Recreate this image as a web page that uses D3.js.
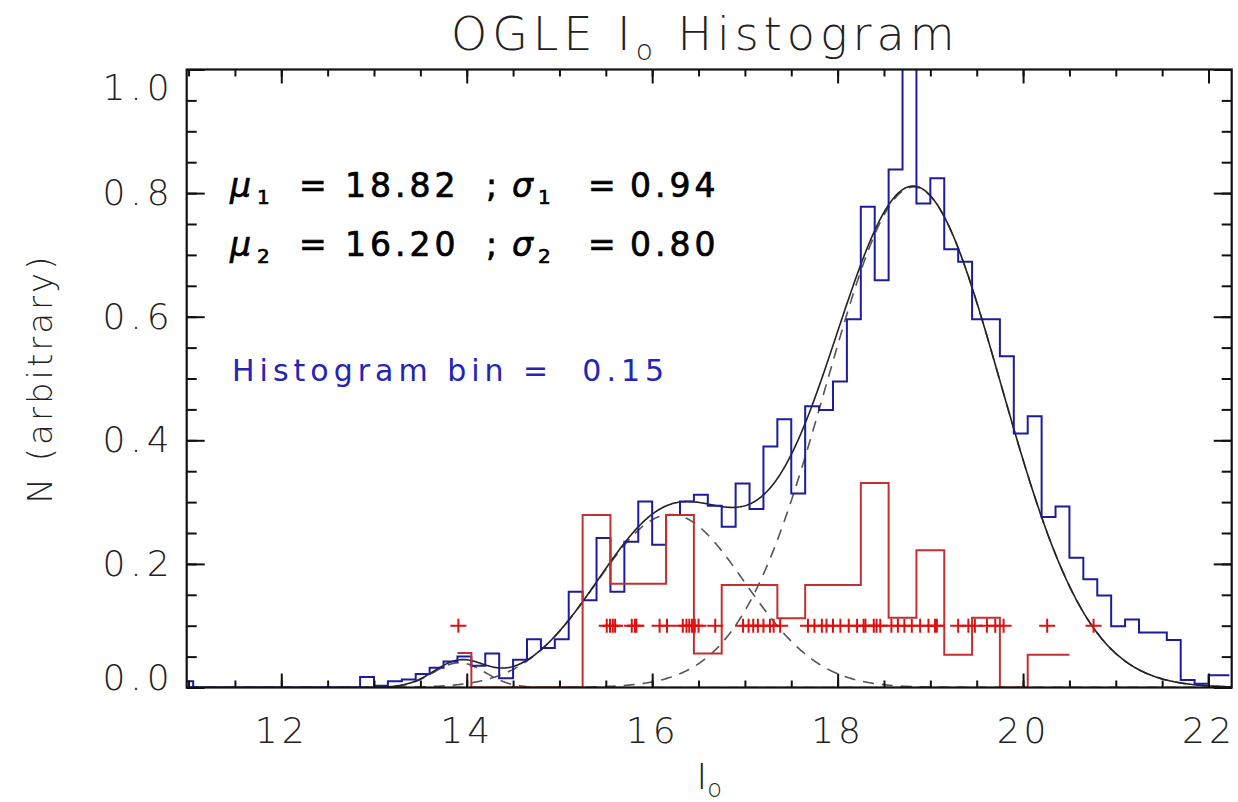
<!DOCTYPE html>
<html><head><meta charset="utf-8">
<script src="https://cdn.jsdelivr.net/npm/d3@7"></script>
<style>
body{margin:0;background:#fff}
svg{display:block}
text{white-space:pre}
</style>
</head><body>
<svg id="chart" width="1238" height="802"></svg>
<script>
// ---- data ----
const blueCenters = [10.975,11.125,11.275,11.425,11.575,11.725,11.875,12.025,12.175,12.325,12.475,12.625,12.775,
  12.925,13.075,13.225,13.375,13.525,13.675,13.825,13.975,14.125,14.275,14.425,14.575,14.725,14.875,15.025,
  15.175,15.325,15.475,15.625,15.775,15.925,16.075,16.225,16.375,16.525,16.675,16.825,16.975,17.125,17.275,
  17.425,17.575,17.725,17.875,18.025,18.175,18.325,18.475,18.625,18.775,18.925,19.075,19.225,19.375,19.525,
  19.675,19.825,19.975,20.125,20.275,20.425,20.575,20.725,20.875,21.025,21.175,21.325,21.475,21.625,21.775,
  21.925,22.075,22.225];
const blueCounts = [0.01,0,0,0,0,0,0,0,0,0,0,0,0,
  0.017,0.003,0.01,0.013,0.022,0.032,0.042,0.05,0.035,0.055,0.015,0.045,0.078,0.064,0.078,
  0.155,0.141,0.242,0.155,0.236,0.301,0.231,0.279,0.301,0.312,0.294,0.26,0.33,0.289,0.39,
  0.434,0.314,0.455,0.449,0.495,0.596,0.778,0.659,0.838,1.08,0.783,0.824,0.709,0.689,0.596,
  0.596,0.536,0.411,0.439,0.276,0.293,0.21,0.175,0.149,0.099,0.11,0.089,0.089,0.077,0.012,
  0.006,0.02,0.02];
const redCenters = [13.9,14.2,14.5,14.8,15.1,15.4,15.7,16.0,16.3,16.6,16.9,17.2,17.5,17.8,18.1,18.4,18.7,19.0,19.3,19.6,19.9,20.2,20.5];
const redCounts  = [0.056,0,0,0,0,0.279,0.168,0.168,0.279,0.055,0.166,0.166,0.112,0.166,0.166,0.331,0.113,0.222,0.053,0.113,0,0.053,0.053];
const redStars = [13.91,15.51,15.545,15.575,15.60,15.78,15.815,15.83,16.08,16.16,16.33,16.37,16.40,16.43,16.46,16.50,16.68,
  16.98,17.04,17.09,17.14,17.20,17.27,17.31,17.38,17.68,17.75,17.83,17.88,17.95,18.03,18.12,18.21,18.28,18.30,18.39,
  18.42,18.46,18.58,18.65,18.72,18.80,18.89,18.98,19.05,19.07,19.30,19.41,19.48,19.61,19.70,19.79,20.26,20.76];
const starLevel = 0.1;
const fitMu = [18.82, 16.20, 13.92];
const fitSigma = [0.94, 0.80, 0.28];
const fitAmp = [0.81, 0.28, 0.04];
const xTicks = [12,14,16,18,20,22];
const yTicks = [0,0.2,0.4,0.6,0.8,1.0];
const yTickLabels = ["0.0","0.2","0.4","0.6","0.8","1.0"];
const fitLabels = [["1","18.82","0.94"],["2","16.20","0.80"]];
const binLabel = "Histogram bin =  0.15";

// ---- layout ----
const L = 186.7, R = 1231.7, T = 69.5, B = 687.5;
const svg = d3.select("#chart");
const x = d3.scaleLinear().domain([10.98, 22.25]).range([L, R]);
const y = d3.scaleLinear().domain([0, 1]).range([B, T]);
const labelFont = "'DejaVu Sans', sans-serif";

svg.append("defs").append("clipPath").attr("id","clip")
  .append("rect").attr("x",L).attr("y",T).attr("width",R-L).attr("height",B-T);

const plot = svg.append("g").attr("clip-path","url(#clip)");

// fitted gaussian model curves
const xs = d3.range(10.98, 22.26, 0.01);
const gauss = (v,i) => fitAmp[i]*Math.exp(-((v-fitMu[i])**2)/(2*fitSigma[i]**2));
const line = d3.line().x(d=>x(d[0])).y(d=>y(d[1]));
[0,1,2].forEach(i=>{
  plot.append("path").attr("d", line(xs.map(v=>[v,gauss(v,i)])))
    .attr("fill","none").attr("stroke","#555").attr("stroke-width",1.6)
    .attr("stroke-dasharray","11,8");
});
plot.append("path").attr("d", line(xs.map(v=>[v,gauss(v,0)+gauss(v,1)+gauss(v,2)])))
  .attr("fill","none").attr("stroke","#222").attr("stroke-width",1.6);

// histograms (step at midpoints)
const step = d3.line().curve(d3.curveStep).x(d=>x(d[0])).y(d=>y(d[1]));
plot.append("path").attr("d", step(blueCenters.map((c,i)=>[c,blueCounts[i]])))
  .attr("fill","none").attr("stroke","#1c1c9c").attr("stroke-width",2);
plot.append("path").attr("d", step(redCenters.map((c,i)=>[c,redCounts[i]])))
  .attr("fill","none").attr("stroke","#c43030").attr("stroke-width",2);

// plus markers
plot.selectAll("path.star").data(redStars).join("path").attr("class","star")
  .attr("d", d=>`M${x(d)-8},${y(starLevel)}H${x(d)+8}M${x(d)},${y(starLevel)-7}V${y(starLevel)+7}`)
  .attr("stroke","#dd1010").attr("stroke-width",2).attr("fill","none");

// axes
const minorX = d3.range(11, 22.3, 0.5);
const minorY = d3.range(0, 1.001, 0.05);
function styleAxis(g){ g.select(".domain").remove(); g.selectAll("line").attr("stroke","#111").attr("stroke-width",2); }
svg.append("g").attr("transform",`translate(0,${B})`)
  .call(d3.axisBottom(x).tickValues(minorX).tickSize(-7).tickFormat("")).call(styleAxis);
svg.append("g").attr("transform",`translate(0,${B})`)
  .call(d3.axisBottom(x).tickValues(xTicks).tickSize(-14).tickPadding(30).tickFormat(d3.format("d")))
  .call(styleAxis)
  .selectAll("text").attr("font-family",labelFont).attr("font-size",36).attr("font-weight",200)
  .attr("fill","#222").attr("letter-spacing","4px");
svg.append("g").attr("transform",`translate(0,${T})`)
  .call(d3.axisTop(x).tickValues(minorX).tickSize(-7).tickFormat("")).call(styleAxis);
svg.append("g").attr("transform",`translate(0,${T})`)
  .call(d3.axisTop(x).tickValues(xTicks).tickSize(-14).tickFormat("")).call(styleAxis);

svg.append("g").attr("transform",`translate(${L},0)`)
  .call(d3.axisLeft(y).tickValues(minorY).tickSize(-10).tickFormat("")).call(styleAxis);
const yAx = svg.append("g").attr("transform",`translate(${L},0)`)
  .call(d3.axisLeft(y).tickValues(yTicks).tickSize(-18).tickPadding(12).tickFormat((d,i)=>yTickLabels[i]))
  .call(styleAxis);
yAx.selectAll("text").attr("font-family",labelFont).attr("font-size",36).attr("font-weight",200)
  .attr("fill","#222").attr("letter-spacing","5px")
  .attr("dy",(d)=> d===1 ? "0.82em" : d===0 ? "0.05em" : "0.32em");
svg.append("g").attr("transform",`translate(${R},0)`)
  .call(d3.axisRight(y).tickValues(minorY).tickSize(-10).tickFormat("")).call(styleAxis);
svg.append("g").attr("transform",`translate(${R},0)`)
  .call(d3.axisRight(y).tickValues(yTicks).tickSize(-18).tickFormat("")).call(styleAxis);

svg.append("rect").attr("x",L).attr("y",T).attr("width",R-L).attr("height",B-T)
  .attr("fill","none").attr("stroke","#111").attr("stroke-width",2.2);

// title
const title = svg.append("text").attr("x",(L+R)/2 - 4).attr("y",50).attr("text-anchor","middle")
  .attr("font-family",labelFont).attr("font-size",46).attr("font-weight",200).attr("fill","#222")
  .attr("letter-spacing","5px");
title.append("tspan").text("OGLE I");
title.append("tspan").attr("font-size",28).attr("dy",10).text("o");
title.append("tspan").attr("dy",-10).text(" Histogram");

// axis titles
const xt = svg.append("text").attr("x",(L+R)/2).attr("y",789).attr("text-anchor","middle")
  .attr("font-family",labelFont).attr("font-size",36).attr("font-weight",200).attr("fill","#222");
xt.append("tspan").text("I");
xt.append("tspan").attr("font-size",24).attr("dy",8).text("o");
svg.append("text").attr("transform",`translate(52,${(T+B)/2}) rotate(-90)`).attr("text-anchor","middle")
  .attr("font-family",labelFont).attr("font-size",34).attr("font-weight",200).attr("fill","#222")
  .attr("letter-spacing","3px").text("N (arbitrary)");

// annotations (pieces placed like the reference)
function piece(xp, yp, txt, opts={}){
  return svg.append("text").attr("x",xp).attr("y",yp).attr("font-family",labelFont)
    .attr("font-size",opts.size||33).attr("fill","#000").attr("stroke","#000").attr("stroke-width",0.7)
    .attr("letter-spacing","4px").attr("font-style",opts.italic?"italic":"normal").text(txt);
}
fitLabels.forEach((f,k)=>{
  const yp = 197 + k*59;
  piece(230, yp, "\u03bc", {italic:true});
  piece(257, yp+7, f[0], {size:20});
  piece(299, yp, "=");
  piece(345, yp, f[1]);
  piece(486, yp, ";");
  piece(512, yp, "\u03c3", {italic:true});
  piece(538, yp+7, f[0], {size:20});
  piece(588, yp, "=");
  piece(630, yp, f[2]);
});
svg.append("text").attr("x",232).attr("y",381).attr("font-family",labelFont).attr("font-size",30)
  .attr("fill","#2424b8").attr("letter-spacing","5px").text(binLabel);
</script>
</body></html>
